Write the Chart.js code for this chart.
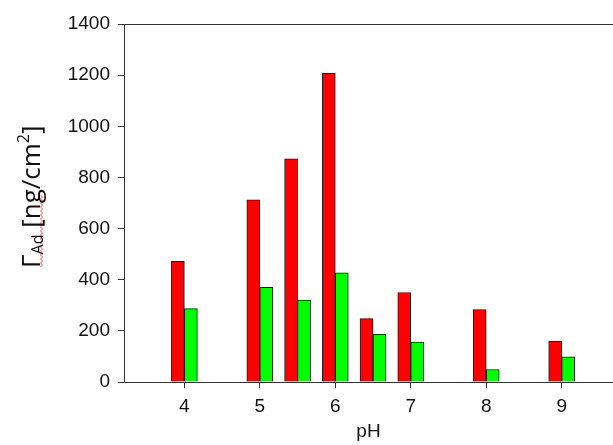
<!DOCTYPE html>
<html>
<head>
<meta charset="utf-8">
<script src="https://cdn.jsdelivr.net/npm/chart.js@4/dist/chart.umd.min.js"></script>
<style>
  html, body { margin: 0; padding: 0; background: #fff; }
  #wrap { width: 613px; height: 445px; }
</style>
</head>
<body>
<div id="wrap"><canvas id="chart"></canvas></div>
<script>
// values
const phValues = [4, 5, 5.5, 6, 6.5, 7, 8, 9];
const redValues = [472, 712, 873, 1207, 248, 350, 283, 160];
const greenValues = [287, 370, 320, 427, 186, 156, 49, 98];
const phTicks = [4, 5, 6, 7, 8, 9];
const yTicks = [0, 200, 400, 600, 800, 1000, 1200, 1400];

const axisColor = '#333';
const tickFont = { family: 'Liberation Sans', size: 19 };

function toPoints(vals) {
    return phValues.map((ph, i) => ({ x: ph, y: vals[i] }));
}

// y title with subscript / superscript, and the top frame line
const frameAndTitle = {
    id: 'frameAndTitle',
    afterDraw(chart) {
        const ctx = chart.ctx;
        const area = chart.chartArea;
        ctx.save();
        ctx.strokeStyle = axisColor;
        ctx.lineWidth = 1;
        ctx.beginPath();
        ctx.moveTo(area.left - 6, area.top + 0.5);
        ctx.lineTo(area.right, area.top + 0.5);
        ctx.stroke();

        // red spell-check squiggle under "Ad"
        ctx.strokeStyle = '#e85050';
        ctx.beginPath();
        let i = 0;
        for (let y = 195; y <= 267; y += 2, i++) {
            const x = 41.5 + (i % 2 === 0 ? -1 : 1);
            if (i === 0) ctx.moveTo(x, y); else ctx.lineTo(x, y);
        }
        ctx.stroke();

        ctx.translate(40, 268);
        ctx.rotate(-Math.PI / 2);
        ctx.fillStyle = '#111';
        ctx.textBaseline = 'alphabetic';
        const size = 26;
        const parts = [
            { t: '\u0393', s: 1, dy: 0 },
            { t: 'Ad', s: 0.62, dy: 3 },
            { t: ' [ng/cm', s: 1, dy: 0 },
            { t: '2', s: 0.62, dy: -11 },
            { t: ']', s: 1, dy: 0 }
        ];
        let x = 0;
        parts.forEach(p => {
            ctx.font = Math.round(size * p.s) + 'px "Open Sans"';
            ctx.fillText(p.t, x, p.dy);
            x += ctx.measureText(p.t).width;
        });
        ctx.restore();
    }
};

new Chart(document.getElementById('chart'), {
    type: 'bar',
    data: {
        datasets: [{
            data: toPoints(redValues),
            backgroundColor: '#ff0000',
            borderColor: '#1a1a1a',
            borderWidth: 1,
            barThickness: 13
        }, {
            data: toPoints(greenValues),
            backgroundColor: '#00ff00',
            borderColor: '#1a1a1a',
            borderWidth: 1,
            barThickness: 13
        }]
    },
    options: {
        responsive: true,
        maintainAspectRatio: false,
        animation: false,
        layout: { padding: { left: 0, right: 0, top: 24, bottom: 0 } },
        scales: {
            x: {
                type: 'linear',
                offset: false,
                min: 3.2,
                max: 9.68,
                afterBuildTicks: scale => { scale.ticks = phTicks.map(v => ({ value: v })); },
                afterFit: scale => { scale.height = 63; },
                grid: { display: true, drawOnChartArea: false, tickLength: 6, color: axisColor, offset: false },
                border: { display: true, color: axisColor },
                ticks: { font: tickFont, color: '#111', padding: 7, callback: v => String(v) },
                title: { display: true, text: 'pH', font: tickFont, color: '#111', padding: { top: 0, bottom: 2 } }
            },
            y: {
                min: 0,
                max: 1400,
                afterBuildTicks: scale => { scale.ticks = yTicks.map(v => ({ value: v })); },
                afterFit: scale => { scale.width = 124; },
                grid: { display: true, drawOnChartArea: false, tickLength: 6, color: axisColor },
                border: { display: true, color: axisColor },
                ticks: { font: tickFont, color: '#111', padding: 8, callback: v => String(v) }
            }
        },
        plugins: {
            legend: { display: false },
            tooltip: { enabled: false }
        }
    },
    plugins: [frameAndTitle]
});
</script>
</body>
</html>
